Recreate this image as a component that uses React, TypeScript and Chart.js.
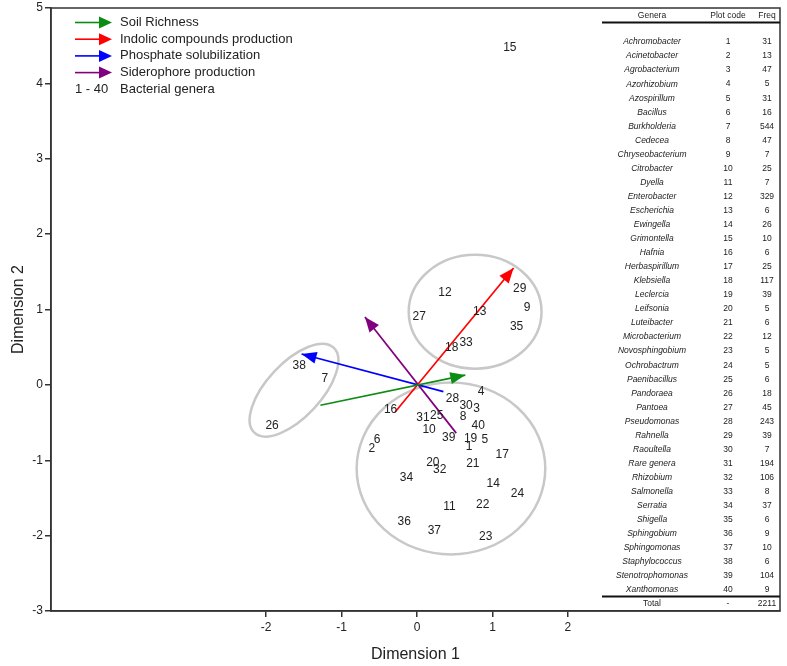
import React, { useEffect, useRef } from "react";
import { Chart, registerables } from "chart.js";

Chart.register(...registerables);

const FONT = "'Liberation Sans', Arial, Helvetica, sans-serif";

// ---- Data ----
const codes = [
  1, 2, 3, 4, 5, 6, 7, 8, 9, 10, 11, 12, 13, 14, 15, 16, 17, 18, 19, 20,
  21, 22, 23, 24, 25, 26, 27, 28, 29, 30, 31, 32, 33, 34, 35, 36, 37, 38, 39, 40,
];
const genera = [
  "Achromobacter", "Acinetobacter", "Agrobacterium", "Azorhizobium", "Azospirillum",
  "Bacillus", "Burkholderia", "Cedecea", "Chryseobacterium", "Citrobacter",
  "Dyella", "Enterobacter", "Escherichia", "Ewingella", "Grimontella",
  "Hafnia", "Herbaspirillum", "Klebsiella", "Leclercia", "Leifsonia",
  "Luteibacter", "Microbacterium", "Novosphingobium", "Ochrobactrum", "Paenibacillus",
  "Pandoraea", "Pantoea", "Pseudomonas", "Rahnella", "Raoultella",
  "Rare genera", "Rhizobium", "Salmonella", "Serratia", "Shigella",
  "Sphingobium", "Sphingomonas", "Staphylococcus", "Stenotrophomonas", "Xanthomonas",
];
const freqs = [
  31, 13, 47, 5, 31, 16, 544, 47, 7, 25,
  7, 329, 6, 26, 10, 6, 25, 117, 39, 5,
  6, 12, 5, 5, 6, 18, 45, 243, 39, 7,
  194, 106, 8, 37, 6, 9, 10, 6, 104, 9,
];
const totalFreq = 2211;

// Dimension 1 / Dimension 2 coordinates of each genus (by plot code)
const dim1 = [
  0.69, -0.6, 0.79, 0.85, 0.9, -0.53, -1.22, 0.61, 1.46, 0.16,
  0.43, 0.37, 0.83, 1.01, 1.23, -0.35, 1.13, 0.46, 0.71, 0.21,
  0.74, 0.87, 0.91, 1.33, 0.26, -1.92, 0.03, 0.47, 1.36, 0.65,
  0.08, 0.3, 0.65, -0.14, 1.32, -0.17, 0.23, -1.56, 0.42, 0.81,
];
const dim2 = [
  -0.82, -0.84, -0.32, -0.09, -0.73, -0.73, 0.08, -0.42, 1.02, -0.59,
  -1.61, 1.22, 0.97, -1.31, 4.48, -0.33, -0.93, 0.49, -0.71, -1.03,
  -1.04, -1.59, -2.02, -1.44, -0.41, -0.54, 0.91, -0.18, 1.27, -0.27,
  -0.44, -1.13, 0.56, -1.23, 0.77, -1.81, -1.94, 0.25, -0.7, -0.54,
];

// Trait vectors
const vectorNames = [
  "Soil Richness",
  "Indolic compounds production",
  "Phosphate solubilization",
  "Siderophore production",
];
const vectorColors = ["#0b8c12", "#ff0000", "#0000ff", "#800080"];
const vectorTailX = [-1.28, -0.29, 0.35, 0.52];
const vectorTailY = [-0.27, -0.36, -0.09, -0.64];
const vectorTipX = [0.64, 1.28, -1.53, -0.69];
const vectorTipY = [0.13, 1.55, 0.41, 0.9];

// Group ellipses (data units)
const groupCenterX = [0.45, 0.77, -1.63];
const groupCenterY = [-1.11, 0.97, -0.07];
const groupRadiusX = [1.25, 0.88, 0.77];
const groupRadiusY = [1.14, 0.755, 0.36];
const groupAngleDeg = [0, 0, 47];

const xTickValues = [-2, -1, 0, 1, 2];
const legendExtra = ["1 - 40", "Bacterial genera"];
const tableHeader = ["Genera", "Plot code", "Freq"];

const AXIS_COLOR = "#333333";
const TEXT_COLOR = "#222222";

function drawArrowHead(ctx: CanvasRenderingContext2D, x0: number, y0: number, x1: number, y1: number, color: string, len: number, half: number) {
  const ang = Math.atan2(y1 - y0, x1 - x0);
  ctx.save();
  ctx.fillStyle = color;
  ctx.beginPath();
  ctx.moveTo(x1, y1);
  ctx.lineTo(x1 - len * Math.cos(ang) + half * Math.sin(ang), y1 - len * Math.sin(ang) - half * Math.cos(ang));
  ctx.lineTo(x1 - len * Math.cos(ang) - half * Math.sin(ang), y1 - len * Math.sin(ang) + half * Math.cos(ang));
  ctx.closePath();
  ctx.fill();
  ctx.restore();
}

const decorPlugin = {
  id: "decor",
  beforeDatasetsDraw(chart: any) {
    const { ctx, scales } = chart;
    const xs = scales.x;
    const ys = scales.y;
    ctx.save();
    ctx.strokeStyle = "#c8c8c8";
    ctx.lineWidth = 2.5;
    for (let i = 0; i < groupCenterX.length; i++) {
      const cx = xs.getPixelForValue(groupCenterX[i]);
      const cy = ys.getPixelForValue(groupCenterY[i]);
      const rx = Math.abs(xs.getPixelForValue(groupCenterX[i] + groupRadiusX[i]) - cx);
      const ry = Math.abs(ys.getPixelForValue(groupCenterY[i] + groupRadiusY[i]) - cy);
      ctx.beginPath();
      ctx.ellipse(cx, cy, rx, ry, (-groupAngleDeg[i] * Math.PI) / 180, 0, Math.PI * 2);
      ctx.stroke();
    }
    ctx.restore();
  },
  afterDatasetsDraw(chart: any) {
    const { ctx, chartArea } = chart;
    // arrow heads
    for (let i = 0; i < vectorNames.length; i++) {
      const meta = chart.getDatasetMeta(i);
      const p0 = meta.data[0];
      const p1 = meta.data[1];
      drawArrowHead(ctx, p0.x, p0.y, p1.x, p1.y, vectorColors[i], 15, 6);
    }
    // genus code labels
    const lm = chart.getDatasetMeta(vectorNames.length);
    ctx.save();
    ctx.fillStyle = TEXT_COLOR;
    ctx.font = `12px ${FONT}`;
    ctx.textAlign = "center";
    ctx.textBaseline = "middle";
    lm.data.forEach((el: any, i: number) => {
      ctx.fillText(String(codes[i]), el.x, el.y);
    });
    ctx.restore();

    // frame
    ctx.save();
    ctx.strokeStyle = AXIS_COLOR;
    ctx.lineWidth = 1.5;
    ctx.strokeRect(chartArea.left, chartArea.top, chartArea.right - chartArea.left, chartArea.bottom - chartArea.top);
    ctx.restore();

    // legend
    const lx = chartArea.left + 24;
    const ly = chartArea.top + 14.5;
    const rowH = 16.7;
    ctx.save();
    ctx.font = `13px ${FONT}`;
    ctx.textBaseline = "middle";
    ctx.textAlign = "left";
    for (let i = 0; i < vectorNames.length; i++) {
      const y = ly + i * rowH;
      ctx.strokeStyle = vectorColors[i];
      ctx.lineWidth = 1.6;
      ctx.beginPath();
      ctx.moveTo(lx, y);
      ctx.lineTo(lx + 26, y);
      ctx.stroke();
      drawArrowHead(ctx, lx, y, lx + 37, y, vectorColors[i], 13, 6);
      ctx.fillStyle = TEXT_COLOR;
      ctx.fillText(vectorNames[i], lx + 45, y);
    }
    ctx.fillStyle = TEXT_COLOR;
    ctx.fillText(legendExtra[0], lx, ly + 4 * rowH);
    ctx.fillText(legendExtra[1], lx + 45, ly + 4 * rowH);
    ctx.restore();

    // table
    const right = chartArea.right;
    const colG = right - 128;
    const colC = right - 52;
    const colF = right - 13;
    ctx.save();
    ctx.fillStyle = TEXT_COLOR;
    ctx.textAlign = "center";
    ctx.textBaseline = "middle";
    ctx.font = `8.5px ${FONT}`;
    const hy = chartArea.top + 8;
    ctx.fillText(tableHeader[0], colG, hy);
    ctx.fillText(tableHeader[1], colC, hy);
    ctx.fillText(tableHeader[2], colF, hy);
    ctx.strokeStyle = "#111";
    ctx.lineWidth = 2;
    ctx.beginPath();
    ctx.moveTo(right - 178, chartArea.top + 14.5);
    ctx.lineTo(right, chartArea.top + 14.5);
    ctx.moveTo(right - 178, chartArea.bottom - 14.5);
    ctx.lineTo(right, chartArea.bottom - 14.5);
    ctx.stroke();
    const r0 = chartArea.top + 34;
    const step = (chartArea.bottom - 21 - r0) / (genera.length - 1);
    for (let i = 0; i < genera.length; i++) {
      const y = r0 + i * step;
      ctx.font = `italic 8.5px ${FONT}`;
      ctx.fillText(genera[i], colG, y);
      ctx.font = `8.5px ${FONT}`;
      ctx.fillText(String(codes[i]), colC, y);
      ctx.fillText(String(freqs[i]), colF, y);
    }
    const ty = chartArea.bottom - 7;
    ctx.font = `8.5px ${FONT}`;
    ctx.fillText("Total", colG, ty);
    ctx.fillText("-", colC, ty);
    ctx.fillText(String(totalFreq), colF, ty);
    ctx.restore();
  },
};

export default function App() {
  const ref = useRef<HTMLCanvasElement | null>(null);
  useEffect(() => {
    if (!ref.current) return;
    const datasets: any[] = vectorNames.map((name, i) => ({
      label: name,
      data: [
        { x: vectorTailX[i], y: vectorTailY[i] },
        { x: vectorTipX[i], y: vectorTipY[i] },
      ],
      showLine: true,
      borderColor: vectorColors[i],
      backgroundColor: vectorColors[i],
      borderWidth: 1.7,
      pointRadius: 0,
      pointHoverRadius: 0,
      fill: false,
    }));
    datasets.push({
      label: "Bacterial genera",
      data: codes.map((c, i) => ({ x: dim1[i], y: dim2[i] })),
      pointRadius: 0,
      pointHoverRadius: 0,
      showLine: false,
    });
    const chart = new Chart(ref.current, {
      type: "scatter",
      data: { datasets },
      options: {
        responsive: false,
        animation: false,
        events: [],
        layout: { padding: { top: 6, right: 7, left: 0, bottom: 0 } },
        plugins: { legend: { display: false }, tooltip: { enabled: false } },
        scales: {
          x: {
            type: "linear",
            min: -4.85,
            max: 4.81,
            afterBuildTicks: (s: any) => {
              s.ticks = xTickValues.map((v) => ({ value: v }));
            },
            afterFit: (s: any) => {
              s.height = 55;
            },
            grid: { drawOnChartArea: false, drawTicks: true, tickLength: 6, color: AXIS_COLOR, lineWidth: 1.5 },
            border: { color: AXIS_COLOR, width: 1.5 },
            ticks: { color: TEXT_COLOR, font: { family: FONT, size: 12 }, padding: 3 },
            title: { display: true, text: "Dimension 1", color: TEXT_COLOR, font: { family: FONT, size: 16 }, padding: { top: 0, bottom: 2 } },
          },
          y: {
            type: "linear",
            min: -3,
            max: 5,
            ticks: { stepSize: 1, color: TEXT_COLOR, font: { family: FONT, size: 12, lineHeight: 1 }, padding: 2 },
            afterFit: (s: any) => {
              s.width = 51;
            },
            grid: { drawOnChartArea: false, drawTicks: true, tickLength: 6, color: AXIS_COLOR, lineWidth: 1.5 },
            border: { color: AXIS_COLOR, width: 1.5 },
            title: { display: true, text: "Dimension 2", color: TEXT_COLOR, font: { family: FONT, size: 16 }, padding: { top: 9, bottom: 0 } },
          },
        },
      } as any,
      plugins: [decorPlugin],
    });
    return () => chart.destroy();
  }, []);
  return (
    <div style={{ position: "fixed", left: 0, top: 0, width: 787, height: 666, background: "#fff" }}>
      <canvas ref={ref} width={787} height={666} style={{ display: "block", width: 787, height: 666 }} />
    </div>
  );
}
